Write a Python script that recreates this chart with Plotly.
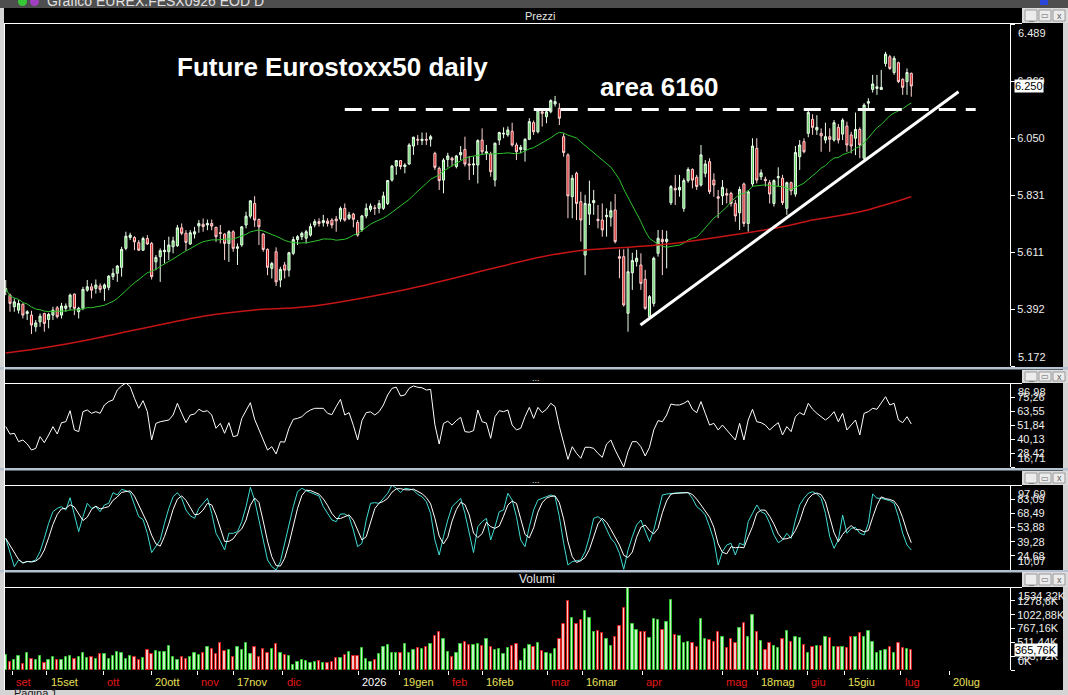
import pandas as pd
import plotly.graph_objects as go

FIG_W, FIG_H = 1068, 695


def fx(p):
    return p / FIG_W


def fy(p):
    return 1 - p / FIG_H


# ---------------- data ----------------
open_ = [5462, 5445, 5400, 5387, 5410, 5374, 5368, 5323, 5342, 5374,
         5351, 5368, 5396, 5368, 5394, 5400, 5449, 5381, 5394, 5464,
         5477, 5471, 5480, 5471, 5475, 5516, 5529, 5552, 5625, 5667,
         5667, 5647, 5618, 5663, 5644, 5573, 5593, 5612, 5612, 5631,
         5635, 5704, 5683, 5642, 5680, 5711, 5718, 5715, 5721, 5706,
         5685, 5680, 5644, 5689, 5625, 5638, 5715, 5749, 5798, 5736,
         5680, 5621, 5548, 5612, 5503, 5561, 5541, 5606, 5659, 5670,
         5664, 5676, 5715, 5728, 5724, 5730, 5734, 5738, 5738, 5779,
         5741, 5757, 5725, 5696, 5750, 5775, 5781, 5779, 5779, 5798,
         5888, 5942, 5963, 5940, 5950, 6019, 6045, 6040, 6045, 6045,
         5991, 5933, 5888, 5967, 5972, 5940, 5985, 6006, 5950, 5946,
         5946, 6042, 5990, 5988, 5888, 6042, 6065, 6062, 6076, 6023,
         6006, 6004, 6045, 6109, 6074, 6151, 6132, 6151, 6181, 6164,
         6055, 5985, 5824, 5914, 5805, 5599, 5757, 5801, 5737, 5734,
         5747, 5745, 5773, 5593, 5593, 5375, 5531, 5574, 5561, 5506,
         5362, 5413, 5606, 5660, 5651, 5801, 5856, 5850, 5779, 5886,
         5929, 5899, 5869, 5914, 5959, 5888, 5824, 5827, 5836, 5837,
         5798, 5762, 5873, 5721, 5873, 6010, 5901, 5891, 5878, 5798,
         5897, 5895, 5779, 5878, 5834, 5978, 6036, 6068, 6122, 6081,
         6068, 6042, 6055, 6042, 6091, 6065, 6096, 6062, 6049, 6083,
         5972, 6184, 6237, 6241, 6237, 6337, 6363, 6302, 6340, 6276,
         6267, 6299]
high_ = [5503, 5451, 5432, 5426, 5413, 5387, 5385, 5349, 5374, 5377,
         5377, 5400, 5403, 5415, 5413, 5451, 5451, 5400, 5477, 5503,
         5490, 5505, 5490, 5490, 5522, 5548, 5561, 5631, 5689, 5685,
         5672, 5657, 5670, 5676, 5650, 5599, 5625, 5657, 5670, 5670,
         5715, 5721, 5695, 5695, 5708, 5734, 5740, 5736, 5736, 5708,
         5715, 5683, 5695, 5695, 5644, 5711, 5766, 5811, 5826, 5740,
         5683, 5625, 5573, 5629, 5554, 5573, 5612, 5670, 5676, 5689,
         5696, 5721, 5737, 5741, 5754, 5741, 5741, 5750, 5786, 5798,
         5766, 5762, 5734, 5754, 5798, 5798, 5792, 5811, 5843, 5888,
         5946, 5965, 5965, 5953, 6030, 6055, 6062, 6071, 6071, 6062,
         5997, 5940, 5972, 5993, 5978, 5985, 6019, 6055, 5981, 5978,
         6045, 6087, 6023, 5997, 6032, 6074, 6091, 6094, 6109, 6032,
         6023, 6049, 6126, 6117, 6164, 6160, 6160, 6199, 6212, 6184,
         6068, 5991, 5908, 5920, 5843, 5831, 5886, 5850, 5792, 5798,
         5779, 5805, 5834, 5621, 5621, 5625, 5608, 5619, 5606, 5542,
         5445, 5593, 5696, 5696, 5693, 5869, 5908, 5908, 5895, 5937,
         5933, 5908, 6023, 5965, 5972, 5914, 5850, 5888, 5856, 5843,
         5811, 5863, 5878, 5850, 6049, 6049, 5929, 5901, 5888, 5891,
         5937, 5908, 5882, 5882, 6019, 6042, 6049, 6155, 6142, 6138,
         6087, 6109, 6087, 6119, 6104, 6126, 6113, 6074, 6148, 6091,
         6184, 6203, 6293, 6293, 6312, 6382, 6370, 6366, 6344, 6280,
         6318, 6302]
low_ = [5445, 5381, 5381, 5374, 5355, 5349, 5295, 5304, 5323, 5304,
        5317, 5349, 5355, 5355, 5381, 5387, 5368, 5355, 5387, 5458,
        5432, 5451, 5454, 5423, 5464, 5503, 5496, 5516, 5618, 5657,
        5618, 5615, 5615, 5638, 5505, 5541, 5496, 5567, 5580, 5606,
        5631, 5676, 5616, 5638, 5663, 5685, 5689, 5695, 5695, 5650,
        5644, 5580, 5573, 5612, 5561, 5631, 5702, 5740, 5708, 5638,
        5612, 5522, 5509, 5480, 5475, 5509, 5516, 5599, 5638, 5657,
        5644, 5670, 5706, 5709, 5709, 5709, 5702, 5689, 5728, 5728,
        5734, 5706, 5670, 5689, 5741, 5766, 5754, 5760, 5773, 5792,
        5882, 5908, 5929, 5914, 5946, 5985, 6023, 6023, 6023, 6017,
        5927, 5850, 5837, 5937, 5940, 5933, 5965, 5940, 5888, 5908,
        5875, 5985, 5965, 5901, 5863, 6023, 6049, 6055, 6017, 5965,
        5991, 5959, 6042, 6062, 6068, 6094, 6107, 6145, 6171, 6100,
        5978, 5741, 5741, 5734, 5651, 5522, 5715, 5754, 5702, 5670,
        5670, 5709, 5644, 5510, 5401, 5304, 5465, 5555, 5465, 5388,
        5349, 5401, 5593, 5522, 5548, 5792, 5792, 5824, 5766, 5878,
        5856, 5850, 5863, 5899, 5834, 5824, 5741, 5792, 5798, 5786,
        5728, 5696, 5708, 5689, 5863, 5875, 5888, 5863, 5798, 5786,
        5863, 5792, 5754, 5830, 5824, 5927, 5991, 6053, 6062, 6062,
        5997, 6029, 5997, 6036, 6029, 6042, 5997, 5991, 5984, 5972,
        5965, 6158, 6225, 6216, 6235, 6325, 6312, 6293, 6261, 6216,
        6216, 6209]
close_ = [5470, 5413, 5419, 5413, 5368, 5381, 5330, 5338, 5364, 5336,
          5371, 5387, 5362, 5403, 5403, 5445, 5394, 5394, 5467, 5477,
          5464, 5484, 5467, 5484, 5518, 5529, 5557, 5621, 5672, 5676,
          5650, 5618, 5663, 5642, 5516, 5590, 5616, 5618, 5638, 5654,
          5704, 5683, 5648, 5685, 5689, 5721, 5709, 5721, 5711, 5670,
          5683, 5644, 5689, 5625, 5631, 5708, 5749, 5808, 5734, 5708,
          5621, 5552, 5567, 5496, 5544, 5541, 5608, 5659, 5670, 5683,
          5689, 5709, 5728, 5721, 5732, 5721, 5715, 5731, 5779, 5734,
          5754, 5737, 5676, 5750, 5779, 5788, 5779, 5798, 5827, 5886,
          5942, 5963, 5940, 5946, 6023, 6053, 6042, 6045, 6042, 6055,
          5937, 5886, 5965, 5981, 5965, 5981, 5994, 5950, 5946, 5950,
          6040, 5997, 5997, 5920, 6030, 6071, 6068, 6081, 6023, 5997,
          6014, 6045, 6113, 6074, 6158, 6145, 6151, 6194, 6190, 6126,
          5994, 5827, 5895, 5798, 5734, 5798, 5796, 5809, 5732, 5696,
          5752, 5770, 5651, 5587, 5407, 5535, 5578, 5587, 5490, 5394,
          5439, 5587, 5664, 5651, 5660, 5863, 5850, 5860, 5886, 5929,
          5888, 5863, 5985, 5950, 5843, 5869, 5818, 5860, 5830, 5798,
          5750, 5852, 5721, 5843, 6019, 5888, 5916, 5886, 5834, 5886,
          5901, 5801, 5878, 5847, 5994, 6023, 5997, 6148, 6091, 6091,
          6058, 6055, 6045, 6109, 6042, 6119, 6023, 6019, 6083, 6023,
          6177, 6190, 6258, 6247, 6245, 6373, 6318, 6357, 6267, 6245,
          6302, 6250]

# volume in thousands of contracts
volume_k = [277, 154, 185, 259, 111, 308, 197, 185, 259, 136,
            185, 234, 185, 185, 246, 259, 197, 234, 320, 216,
            234, 197, 296, 296, 197, 259, 339, 320, 197, 259,
            234, 185, 216, 370, 296, 351, 339, 339, 444, 234,
            185, 234, 197, 234, 320, 277, 320, 431, 382, 296,
            493, 351, 370, 246, 431, 370, 493, 296, 431, 234,
            382, 308, 382, 480, 320, 277, 259, 92, 154, 185,
            172, 136, 154, 166, 123, 136, 148, 216, 216, 277,
            339, 259, 259, 400, 197, 154, 185, 296, 419, 462,
            320, 308, 308, 480, 320, 370, 400, 382, 419, 480,
            628, 708, 567, 339, 246, 320, 480, 524, 462, 462,
            474, 444, 567, 431, 370, 380,
            296, 400, 444, 474, 166, 382, 456, 419, 493, 357,
            320, 296, 382, 567, 844, 1275, 955, 850, 924, 1090,
            955, 702, 721, 678, 567, 444, 616, 813, 1140, 1534.32,
            850, 739, 702, 702, 585, 936, 924, 739, 887, 1294,
            647, 628, 493, 511, 493, 431, 936, 573, 554, 524,
            702, 616, 400, 567, 493, 782, 862, 616, 1016, 702,
            536, 370, 505, 444, 400, 567, 715, 524, 616, 585,
            462, 308, 431, 444, 444, 616, 585, 431, 419, 431,
            413, 616, 616, 678, 616, 715, 524, 308, 351, 370,
            431, 320, 493, 400, 382, 365.76]

rsi_vals = [50.5, 44.2, 44.9, 37.9, 39.3, 36.0, 30.9, 32.3, 42.1, 37.1,
            43.5, 50.5, 44.3, 53.8, 54.6, 63.8, 47.7, 46.3, 63.0, 64.4,
            61.6, 63.0, 61.6, 68.6, 71.4, 72.8, 81.1, 84.5, 86.98, 83.9,
            74.2, 65.8, 72.2, 63.0, 39.3, 53.2, 54.6, 55.5, 56.0, 60.2,
            70.0, 61.6, 53.8, 60.2, 61.0, 65.0, 63.0, 63.8, 60.2, 49.1,
            53.2, 44.9, 53.8, 42.1, 43.0, 57.4, 63.8, 70.5, 56.6, 47.7,
            39.3, 30.9, 33.7, 27.6, 37.9, 37.5, 49.1, 56.6, 57.4, 58.8,
            62.2, 64.4, 65.8, 65.5, 65.8, 61.6, 60.5, 67.2, 73.3, 60.2,
            62.2, 51.5, 39.3, 55.5, 62.2, 62.8, 60.2, 63.0, 68.6, 77.0,
            82.5, 83.5, 76.1, 77.0, 82.5, 84.5, 83.4, 83.0, 81.1, 81.7,
            52.0, 35.9, 53.2, 55.0, 51.8, 55.5, 58.3, 46.3, 45.8, 47.1,
            64.4, 54.6, 53.5, 40.7, 58.8, 63.8,
            63.0, 64.4, 51.8, 47.7, 49.1, 58.8, 66.6, 57.4, 66.6, 62.2,
            65.0, 70.0, 67.2, 50.5, 36.5, 23.1, 33.7, 28.1, 24.0, 33.2,
            33.2, 32.3, 28.1, 24.8, 35.9, 39.3, 30.9, 24.0, 16.71, 29.5,
            37.9, 37.9, 33.7, 25.9, 33.2, 47.7, 55.5, 54.6, 60.2, 69.4,
            68.6, 68.6, 70.0, 72.2, 65.0, 62.2, 71.4, 61.6, 51.8, 53.2,
            47.7, 51.8, 47.7, 43.5, 39.3, 53.2, 39.3, 56.0, 65.0, 54.6,
            53.8, 51.8, 47.7, 51.0, 53.8, 43.5, 50.5, 46.3, 58.8, 62.2,
            60.2, 70.0, 65.0, 61.6, 58.8, 56.0, 58.8, 63.0, 54.6, 61.6,
            47.7, 51.8, 56.0, 43.5, 61.6, 63.0, 65.8, 65.0, 70.0, 75.5,
            68.6, 70.0, 56.0, 53.8, 58.8, 52.7]

stoch_k = [42.7, 29.0, 13.5, 20.4, 17.6, 18.7, 18.7, 20.4, 29.0, 42.7,
           58.2, 70.2, 73.6, 75.4, 71.9, 84.6, 68.5, 49.6, 65.1, 78.8,
           73.6, 75.4, 70.2, 77.1, 78.8, 89.8, 87.4, 93.2, 91.9, 89.8,
           77.1, 65.1, 62.0, 47.9, 28.0, 35.0, 41.0, 58.2, 73.6, 85.7,
           89.8, 84.0, 71.9, 66.0, 63.3, 73.6, 78.8, 84.0, 68.5, 47.9,
           40.0, 30.7, 47.9, 47.9, 49.6, 59.9, 75.4, 95.3, 82.2, 61.6,
           37.6, 20.4, 13.5, 10.07, 18.7, 37.6, 54.7, 75.4, 90.8, 94.3,
           91.9, 89.8, 88.4, 86.4, 75.4, 68.0, 61.6, 59.9, 67.8, 67.8,
           65.1, 51.3, 34.1, 37.6, 61.6, 78.8, 79.5, 78.8, 84.0, 89.1,
           97.69, 94.3, 89.8, 94.3, 93.6, 92.5, 88.0, 85.7, 80.5, 68.5,
           41.0, 25.5, 44.4, 61.6, 75.4, 80.0, 84.0, 68.5, 47.9, 28.0,
           54.7, 59.9, 63.3, 41.0, 54.7, 70.2,
           71.9, 89.1, 82.2, 65.1, 41.0, 34.1, 54.7, 71.9, 82.2, 84.0,
           86.4, 87.4, 85.7, 65.1, 37.6, 15.2, 18.7, 19.7, 20.4, 29.0,
           44.4, 63.3, 65.1, 61.6, 51.3, 42.7, 37.6, 27.3, 10.8, 30.7,
           44.4, 56.5, 61.6, 51.3, 39.3, 51.3, 68.5, 87.4, 88.4, 89.1,
           89.8, 89.8, 89.8, 89.8, 84.0, 75.4, 71.9, 66.8, 54.7, 41.0,
           15.2, 29.0, 35.8, 37.6, 25.5, 37.6, 35.8, 59.9, 68.5, 77.1,
           70.2, 67.8, 58.2, 46.2, 38.3, 41.0, 47.9, 42.7, 61.6, 77.1,
           84.0, 89.1, 90.8, 88.4, 84.0, 68.5, 44.4, 32.4, 41.0, 66.8,
           47.9, 53.0, 54.0, 47.9, 46.2, 58.2, 88.4, 84.0, 84.0, 82.9,
           81.5, 78.8, 65.1, 47.9, 35.8, 30.7]

# 200-day moving average, read at a few bars
ma200_bar = [0, 10, 20, 46, 58, 70, 93, 115, 125, 135, 141, 156, 172, 181, 188, 199, 211]
ma200_val = [5222, 5245, 5275, 5364, 5388, 5400, 5466, 5554, 5593, 5619, 5625, 5645, 5683, 5708, 5734, 5766, 5824]

# analyst drawings
level_price = 6160
level_bars = [79, 226]
trend_bars = [147.9, 222.0]
trend_prices = [5330, 6228]

# time axis labels
month_tick_text = ["set", "15set", "ott", "20ott", "nov", "17nov", "dic", "2026", "19gen", "feb",
                   "16feb", "mar", "16mar", "apr", "mag", "18mag", "giu", "15giu", "lug", "20lug"]
month_tick_pos = [1.5, 9.6, 22.7, 33.9, 44.6, 53.0, 64.6, 82.1, 91.7, 103.1,
                  111.0, 126.2, 134.3, 148.3, 167.0, 175.1, 186.8, 195.4, 208.5, 219.9]

# value axis labels
price_ticks = [5172, 5391.5, 5611, 5830.5, 6050, 6269.5, 6489]
price_tick_text = ["5.172", "5.392", "5.611", "5.831", "6.050", "6.269", "6.489"]
rsi_ticks = [16.71, 28.42, 40.13, 51.84, 63.55, 75.26, 86.98]
rsi_tick_text = ["16,71", "28,42", "40,13", "51,84", "63,55", "75,26", "86,98"]
stoch_ticks = [10.07, 24.68, 39.28, 53.88, 68.49, 83.09, 97.69]
stoch_tick_text = ["10,07", "24,68", "39,28", "53,88", "68,49", "83,09", "97,69"]
vol_ticks = [0, 255.72, 511.44, 767.16, 1022.88, 1278.6, 1534.32]
vol_tick_text = ["0K", "255,72K", "511,44K", "767,16K", "1022,88K", "1278,6K", "1534,32K"]

# ---------------- derived ----------------
n = len(close_)
bars = list(range(n))
ma20 = pd.Series(close_).rolling(20, min_periods=1).mean()
stoch_d = pd.Series(stoch_k).rolling(3, min_periods=1).mean()
up = [c >= o for o, c in zip(open_, close_)]
vol_fill = ['#c4f2c4' if u else '#f4c6c6' for u in up]
vol_line = ['#2ec42e' if u else '#d41e1e' for u in up]

FONT = "Liberation Sans"
X_DOM = [fx(4), fx(1010)]
X_RANGE = [-0.4, 234]

fig = go.Figure()
fig.add_trace(go.Candlestick(
    x=bars, open=open_, high=high_, low=low_, close=close_, xaxis='x', yaxis='y',
    increasing=dict(line=dict(color='#eaffea', width=1), fillcolor='#5fd35f'),
    decreasing=dict(line=dict(color='#ffd4d4', width=1), fillcolor='#d41c1c'),
    whiskerwidth=0, showlegend=False, hoverinfo='skip'))
fig.add_trace(go.Scatter(x=bars, y=ma20, mode='lines', xaxis='x', yaxis='y',
                         line=dict(color='#2ec42e', width=1), hoverinfo='skip'))
fig.add_trace(go.Scatter(x=ma200_bar, y=ma200_val, mode='lines', xaxis='x', yaxis='y',
                         line=dict(color='#c41414', width=1.5, shape='spline'), hoverinfo='skip'))
fig.add_trace(go.Scatter(x=bars, y=rsi_vals, mode='lines', xaxis='x2', yaxis='y2',
                         line=dict(color='#ffffff', width=1), hoverinfo='skip'))
fig.add_trace(go.Scatter(x=bars, y=stoch_k, mode='lines', xaxis='x3', yaxis='y3',
                         line=dict(color='#40dcd4', width=1), hoverinfo='skip'))
fig.add_trace(go.Scatter(x=bars, y=stoch_d, mode='lines', xaxis='x3', yaxis='y3',
                         line=dict(color='#ffffff', width=1), hoverinfo='skip'))
fig.add_trace(go.Bar(x=bars, y=volume_k, xaxis='x4', yaxis='y4', width=0.55,
                     marker=dict(color=vol_fill, line=dict(color=vol_line, width=1)),
                     hoverinfo='skip'))


def label_color(t):
    if t.isdigit():
        return '#ffffff'
    if t[0].isdigit():
        return '#e8e058'
    return '#e01818'


base_x = dict(domain=X_DOM, range=X_RANGE, showgrid=False, zeroline=False, showline=False,
              fixedrange=True)


def y_axis(dom_px, ticks, texts, anchor):
    inner = [''] + texts[1:-1] + ['']
    return dict(domain=[fy(dom_px[1]), fy(dom_px[0])], range=[ticks[0], ticks[-1]], side='right',
                anchor=anchor, showline=True, linecolor='#ffffff', linewidth=1, ticks='outside',
                ticklen=4, tickcolor='#ffffff', tickvals=ticks, ticktext=inner,
                tickfont=dict(family=FONT, size=11, color='#eeeeee'), showgrid=False,
                zeroline=False, fixedrange=True)


PRICE_PX = (24, 366)
RSI_PX = (383, 467)
STO_PX = (485, 570)
VOL_PX = (587, 670)

fig.update_layout(
    width=FIG_W, height=FIG_H, margin=dict(l=0, r=0, t=0, b=0),
    paper_bgcolor='#d4d4d4', plot_bgcolor='rgba(0,0,0,0)', separators=',.',
    font=dict(family=FONT, color='#ffffff', size=11), showlegend=False, bargap=0,
    xaxis=dict(anchor='y', showticklabels=False, ticks='', rangeslider=dict(visible=False), **base_x),
    xaxis2=dict(anchor='y2', matches='x', showticklabels=False, ticks='', **base_x),
    xaxis3=dict(anchor='y3', matches='x', showticklabels=False, ticks='', **base_x),
    xaxis4=dict(anchor='y4', matches='x', tickvals=month_tick_pos, ticktext=[''] * len(month_tick_pos),
                ticks='outside', ticklen=4, tickcolor='#ffffff', **base_x),
    yaxis=y_axis(PRICE_PX, price_ticks, price_tick_text, 'x'),
    yaxis2=y_axis(RSI_PX, rsi_ticks, rsi_tick_text, 'x2'),
    yaxis3=y_axis(STO_PX, stoch_ticks, stoch_tick_text, 'x3'),
    yaxis4=y_axis(VOL_PX, vol_ticks, vol_tick_text, 'x4'),
)

shapes = []


def rect(x0, y0, x1, y1, fill, layer='below', line_color=None):
    shapes.append(dict(type='rect', xref='paper', yref='paper', x0=fx(x0), x1=fx(x1),
                       y0=fy(y1), y1=fy(y0), fillcolor=fill, layer=layer,
                       line=dict(width=1 if line_color else 0, color=line_color or fill)))


def hline(x0, x1, y, color, width=1, layer='above'):
    shapes.append(dict(type='line', xref='paper', yref='paper', x0=fx(x0), x1=fx(x1),
                       y0=fy(y), y1=fy(y), line=dict(color=color, width=width), layer=layer))


# black chart body
rect(4, 8, 1063, 690, '#000000')
# window title bar
rect(0, 0, 1068, 8, '#4e4e4e')
rect(1040, 0, 1048, 5, '#2a46d8')
shapes.append(dict(type='circle', xref='paper', yref='paper', x0=fx(18), x1=fx(27), y0=fy(6), y1=fy(-3),
                   fillcolor='#36c836', line=dict(width=0)))
shapes.append(dict(type='circle', xref='paper', yref='paper', x0=fx(30), x1=fx(39), y0=fy(6), y1=fy(-3),
                   fillcolor='#a040c0', line=dict(width=0)))
# separators between panels
for ys in (367, 468, 570):
    rect(0, ys, 1068, ys + 2.5, '#b4c2d2', layer='above')
# header right button areas
headers = [(8, 23), (370, 383), (471, 485), (572, 587)]
for (h0, h1) in headers:
    rect(1022, h0, 1068, h1, '#dcdcdc', layer='above')
    for bx in (1025, 1039, 1053):
        rect(bx, h0 + 2, bx + 12, h1 - 2, '#ececec', layer='above', line_color='#9a9a9a')
# header bottom lines (panel tops)
for yl in (23.5, 383.5, 485.5, 587.5):
    hline(4, 1022, yl, '#ffffff', 1.2)
# left border line
shapes.append(dict(type='line', xref='paper', yref='paper', x0=fx(4.5), x1=fx(4.5), y0=fy(23), y1=fy(690),
                   line=dict(color='#ffffff', width=1), layer='above'))
# level line at 6160 and rising trend line
shapes.append(dict(type='line', xref='x', yref='y', x0=level_bars[0], x1=level_bars[1],
                   y0=level_price, y1=level_price, line=dict(color='#ffffff', width=3, dash='17px,10px'),
                   layer='above'))
shapes.append(dict(type='line', xref='x', yref='y', x0=trend_bars[0], x1=trend_bars[1],
                   y0=trend_prices[0], y1=trend_prices[1], line=dict(color='#ffffff', width=3),
                   layer='above'))

annotations = []


def text(x, y, s, size=11, color='#ffffff', xanchor='center', yanchor='middle', **kw):
    annotations.append(dict(xref='paper', yref='paper', x=fx(x), y=fy(y), text=s, showarrow=False,
                            xanchor=xanchor, yanchor=yanchor,
                            font=dict(family=kw.pop('family', FONT), size=size, color=color), **kw))


text(45, 1, "Grafico EUREX.FESX0926 EOD D", size=14, color='#e2e2e2', xanchor='left')
text(540, 16, "Prezzi", size=11, color='#e6e6e6')
text(536, 378, "...", size=9, color='#e6e6e6')
text(536, 480, "...", size=9, color='#e6e6e6')
text(537, 579, "Volumi", size=12, color='#e6e6e6')
text(12, 693, "Pagina 1", size=11, color='#202020', xanchor='left')
# window buttons glyphs
for (h0, h1) in headers:
    ym = (h0 + h1) / 2
    text(1031, ym + 1, "_", size=9, color='#606060')
    text(1045, ym, "▭", size=8, color='#606060')
    text(1059, ym, "x", size=9, color='#606060')

text(175, 67, "<b>Future Eurostoxx50 daily</b>", size=26, xanchor='left')
text(598, 87, "<b>area 6160</b>", size=26, xanchor='left')

# time labels, placed just right of their tick marks
for pos, lab in zip(month_tick_pos, month_tick_text):
    annotations.append(dict(xref='x4', yref='paper', x=pos, y=fy(682), text=lab, showarrow=False,
                            xanchor='left', yanchor='middle', xshift=2,
                            font=dict(family=FONT, size=11, color=label_color(lab))))

# edge labels of the value axes (pushed inside the panel like the original)
edge_sets = [('y', price_ticks, price_tick_text), ('y2', rsi_ticks, rsi_tick_text),
             ('y3', stoch_ticks, stoch_tick_text), ('y4', vol_ticks, vol_tick_text)]
for yref, tv, tt in edge_sets:
    annotations.append(dict(xref='paper', yref=yref, x=fx(1016), y=tv[-1], text=tt[-1], showarrow=False,
                            xanchor='left', yanchor='top', yshift=-1,
                            font=dict(family=FONT, size=11, color='#eeeeee')))
    annotations.append(dict(xref='paper', yref=yref, x=fx(1016), y=tv[0], text=tt[0], showarrow=False,
                            xanchor='left', yanchor='bottom', yshift=1,
                            font=dict(family=FONT, size=11, color='#eeeeee')))

# last value boxes
last_close = close_[-1]
last_close_txt = "{:,}".format(int(round(last_close))).replace(',', '.')
annotations.append(dict(xref='paper', yref='y', x=fx(1014), y=last_close, text=last_close_txt,
                        showarrow=False, xanchor='left', yanchor='middle', bgcolor='#ffffff',
                        borderpad=0, font=dict(family=FONT, size=11, color='#000000')))
last_vol = volume_k[-1]
last_vol_txt = ("%.2fK" % last_vol).replace('.', ',')
annotations.append(dict(xref='paper', yref='y4', x=fx(1014), y=last_vol, text=last_vol_txt,
                        showarrow=False, xanchor='left', yanchor='middle', bgcolor='#ffffff',
                        borderpad=0, font=dict(family=FONT, size=11, color='#000000')))

fig.update_layout(shapes=shapes, annotations=annotations)

fig.write_html("out.html", config={'displayModeBar': False},
               post_script="document.body.style.margin='0';document.body.style.overflow='hidden';")
